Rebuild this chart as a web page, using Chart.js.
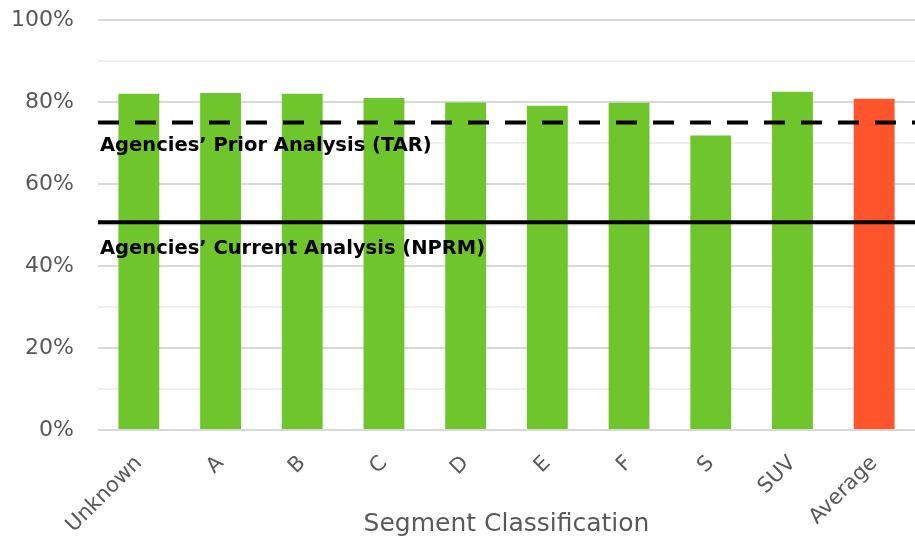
<!DOCTYPE html>
<html>
<head>
<meta charset="utf-8">
<script src="https://cdn.jsdelivr.net/npm/chart.js@4/dist/chart.umd.min.js"></script>
<style>
  body { margin: 0; background: #fff; }
  #wrap { width: 915px; height: 539px; position: relative; }
</style>
</head>
<body>
<div id="wrap"><canvas id="chart"></canvas></div>
<script>
const segments = ["Unknown", "A", "B", "C", "D", "E", "F", "S", "SUV", "Average"];
const shares = [82.0, 82.2, 82.0, 81.0, 79.9, 79.1, 79.8, 71.8, 82.5, 80.8];
const barColors = ["#6fc62c", "#6fc62c", "#6fc62c", "#6fc62c", "#6fc62c", "#6fc62c", "#6fc62c", "#6fc62c", "#6fc62c", "#ff542c"];
const refNames = ["Agencies\u2019 Prior Analysis (TAR)", "Agencies\u2019 Current Analysis (NPRM)"];
const refValues = [75, 50.7];

const GREY = "#595959";
const FONT = "'DejaVu Sans', sans-serif";

// horizontal reference lines with their captions underneath
const refLines = {
    id: "refLines",
    afterDatasetsDraw(chart, args, opts) {
        const ctx = chart.ctx;
        const area = chart.chartArea;
        const y = chart.scales.y;
        ctx.save();
        refValues.forEach(function (v, i) {
            const py = y.getPixelForValue(v);
            ctx.beginPath();
            ctx.lineWidth = 4;
            ctx.strokeStyle = "#000";
            ctx.setLineDash(opts.dashes[i]);
            ctx.moveTo(area.left, py);
            ctx.lineTo(area.right, py);
            ctx.stroke();
            ctx.setLineDash([]);
            ctx.fillStyle = "#000";
            ctx.font = opts.font;
            ctx.textBaseline = "alphabetic";
            ctx.textAlign = "left";
            ctx.fillText(refNames[i], area.left + 2, py + opts.offsets[i]);
        });
        ctx.restore();
    }
};

new Chart(document.getElementById("chart").getContext("2d"), {
    type: "bar",
    data: {
        labels: segments,
        datasets: [{
            data: shares,
            backgroundColor: barColors,
            categoryPercentage: 1,
            barPercentage: 0.5
        }]
    },
    options: {
        responsive: true,
        maintainAspectRatio: false,
        animation: false,
        layout: { padding: { top: 20, right: 0, left: 0, bottom: 0 } },
        plugins: {
            legend: { display: false },
            tooltip: { enabled: false },
            refLines: {
                dashes: [[21, 16], []],
                offsets: [28, 32],
                font: "bold 19.5px " + FONT
            }
        },
        scales: {
            x: {
                grid: { display: false },
                border: { display: false },
                ticks: {
                    color: GREY,
                    font: { family: FONT, size: 21 },
                    minRotation: 45,
                    maxRotation: 45,
                    padding: 13
                },
                title: {
                    display: true,
                    text: "Segment Classification",
                    color: GREY,
                    font: { family: FONT, size: 25 },
                    padding: { top: 0, bottom: 0 }
                },
                afterFit: function (s) { s.height = 109; }
            },
            y: {
                min: 0,
                max: 100,
                grid: {
                    drawTicks: false,
                    lineWidth: 2,
                    color: function (c) { return c.tick.value % 20 === 0 ? "#d9d9d9" : "#eeeeee"; }
                },
                border: { display: false },
                ticks: {
                    stepSize: 10,
                    padding: 24,
                    color: GREY,
                    font: { family: FONT, size: 22 },
                    callback: function (v) { return v % 20 === 0 ? v + "%" : ""; }
                },
                afterFit: function (s) {
                    s.width = 98;
                    s.paddingTop = 0;
                    s.paddingBottom = 0;
                }
            }
        }
    },
    plugins: [refLines]
});
</script>
</body>
</html>
